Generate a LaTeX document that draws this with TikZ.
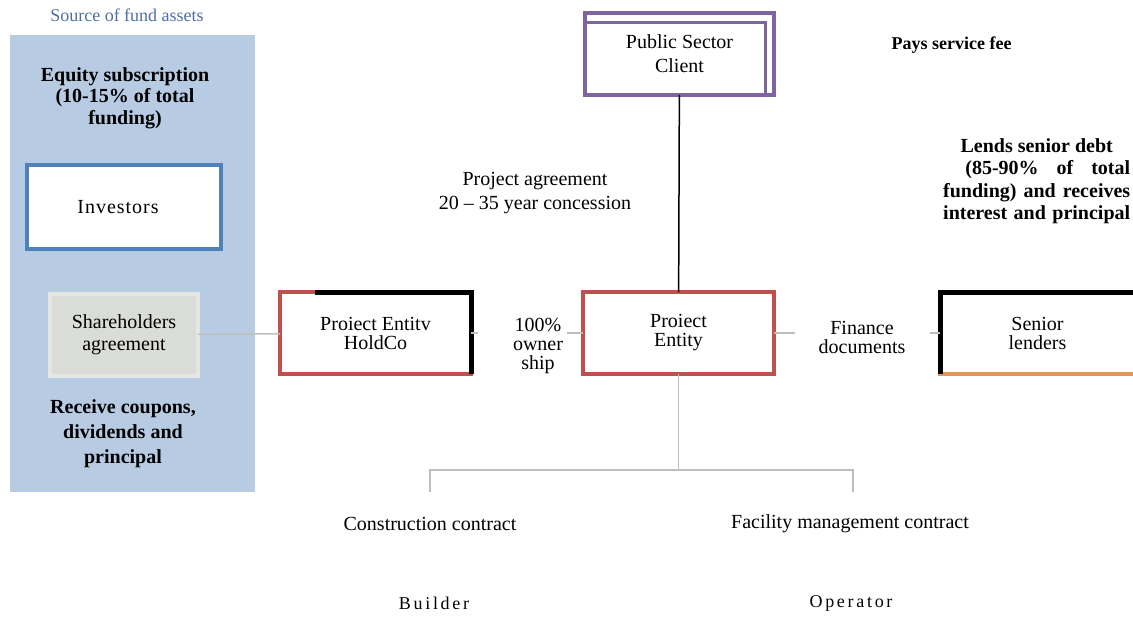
\documentclass[tikz,border=0pt]{standalone}
\usepackage{fontspec}
\setmainfont{Liberation Serif}
\newfontfamily\widefont[LetterSpace=15]{Liberation Serif}
\newfontfamily\semiwidefont[LetterSpace=5]{Liberation Serif}
\definecolor{panelblue}{RGB}{183,203,227}
\definecolor{titleblue}{RGB}{79,110,165}
\definecolor{boxblue}{RGB}{79,129,189}
\definecolor{boxred}{RGB}{192,80,77}
\definecolor{boxpurple}{RGB}{128,100,162}
\definecolor{boxorange}{RGB}{228,150,85}
\definecolor{sharefill}{RGB}{218,220,216}
\definecolor{sharering}{RGB}{230,231,228}
\definecolor{linkgray}{RGB}{190,190,190}
\begin{document}
\begin{tikzpicture}[x=1pt, y=-1pt, font=\fontsize{20}{24}\selectfont, line join=miter,
    box/.style={draw, line width=4pt, fill=white, minimum width=191pt, minimum height=82pt,
        inner sep=0pt, outer sep=0pt, align=center},
    tight/.style={font=\fontsize{20}{19}\selectfont, align=center},
    bold/.style={font=\fontsize{20}{21.5}\selectfont\bfseries, align=center},
    link/.style={linkgray, line width=1.5pt}]
            \useasboundingbox (0,0) rectangle (1133,618);
            % left panel
            \fill[panelblue] (10,35) rectangle (255,492);
            \node[titleblue, font=\fontsize{18}{20}\selectfont] (source) at (127,15) {Source of fund assets};
            \node[bold] (equity) at (125,98) {Equity subscription\\(10-15\% of total\\funding)};
            \node[box, draw=boxblue, minimum width=194pt, minimum height=84pt] (investors) at (124,207) {\semiwidefont Investors\hspace*{12pt}};
            \node[box, draw=sharering, fill=sharefill, minimum width=148pt, font=\fontsize{20}{22}\selectfont] (share) at (124,335) {Shareholders\\agreement};
            \node[bold, font=\fontsize{20}{25}\selectfont\bfseries] (receive) at (123,434) {Receive coupons,\\dividends and\\principal};
            % boxes
            \node[box, draw=boxpurple, minimum width=189pt, minimum height=82pt] (client) at (679.5,54) {Public Sector\\Client};
            \node[box, draw=boxred, tight] (holdco) at (375.5,333) {Proiect Entitv\\HoldCo};
            \node[box, draw=boxred, tight] (entity) at (678.5,333) {Proiect\\Entity};
            \node[box, draw=boxorange, minimum width=195pt, tight] (lenders) at (1037.5,333) {Senior\\lenders};
            \draw[line width=5pt] ([xshift=35pt]holdco.north west) -- (holdco.north east) -- (holdco.south east);
            \draw[line width=5pt] (lenders.south west) -- (lenders.north west) -- (lenders.north east);
            \draw[boxpurple, line width=3pt] ([yshift=-10pt]client.north west) -| ([xshift=-9pt]client.south east);
            % labels
            \node[tight] (own) at (538,346) {100\%\\owner\\ship};
            \node[tight] (fin) at (862,337) {Finance\\documents};
            \node[align=center] (agree) at (535,193) {Project agreement\\20 -- 35 year concession};
            \node[anchor=west, font=\fontsize{18}{20}\selectfont\bfseries] (pays) at (888,45) {Pays service fee};
            \node[anchor=west, align=left, inner sep=0pt, font=\fontsize{20}{22.5}\selectfont\bfseries] (lends) at (943,181)
                {\makebox[187pt][c]{Lends senior debt}\\
                 \makebox[187pt][r]{(85-90\%\hspace{18pt}of\hspace{18pt}total}\\
                 \makebox[187pt][s]{funding) and receives}\\
                 \makebox[187pt][s]{interest and principal}};
            \node (construct) at (430,524) {Construction contract};
            \node (facility) at (850,524) {Facility management contract};
            \node[font=\fontsize{18}{20}\selectfont] (builder) at (434,603) {\widefont Builder};
            \node[font=\fontsize{18}{20}\selectfont] (operator) at (851,603) {\widefont Operator};
            % connectors
            \draw[link] (share) -- (holdco);
            \draw[line width=1.5pt] (client) -- (entity);
            \draw[link, shorten >=31pt] (holdco.east) -- (holdco.east -| own.west);
            \draw[link] (entity.west -| own.east) -- (entity.west);
            \draw[link, shorten >=20pt] (entity.east) -- (entity.east -| fin.west);
            \draw[link, shorten <=21pt] (lenders.west -| fin.east) -- (lenders.west);
            \coordinate (fork) at (678.5,470);
            \coordinate (builddrop) at (430,492);
            \coordinate (opdrop) at (853,492);
            \draw[link] (entity) -- (fork);
            \draw[link] (fork) -| (builddrop);
            \draw[link] (fork) -| (opdrop);
    \end{tikzpicture}
\end{document}
